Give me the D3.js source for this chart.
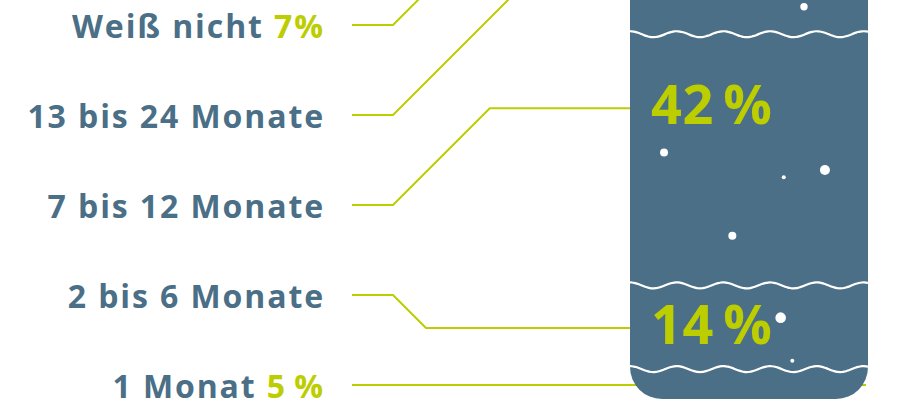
<!DOCTYPE html>
<html>
<head>
<meta charset="utf-8">
<script src="https://cdn.jsdelivr.net/npm/d3@7"></script>
<style>
  html, body { margin: 0; padding: 0; background: #fff; }
  svg { display: block; }
</style>
</head>
<body>
<script>
// Dauer (von unten nach oben gestapelt), Werte in Prozent
const categories = ["1 Monat", "2 bis 6 Monate", "7 bis 12 Monate", "13 bis 24 Monate", "Weiß nicht"];
const values = [5, 14, 42, 32, 7];
const pctLabels = ["5\u2009%", "14\u2009%", "42\u2009%", "32\u2009%", "7%"];
const inJar = [false, true, true, true, false];

// Luftblasen: [x-Anteil der Glasbreite, Höhe in Prozent, Radius]
const bubbles = [
  [0.731, 65.6, 3.7], [0.143, 41.2, 4], [0.819, 38.3, 5], [0.646, 37.1, 2],
  [0.430, 27.3, 4], [0.633, 13.6, 5.3], [0.682, 6.4, 2]
];

const W = 915, H = 413;
const blue = "#4a6f86", lime = "#bccd00";
const font = "'Open Sans', 'Noto Sans', sans-serif";

const svg = d3.select("body").append("svg")
    .attr("width", W)
    .attr("height", H);

// Glas
const jarX0 = 630, jarX1 = 868, jarBottom = 399, corner = 32;
const y = d3.scaleLinear().domain([0, 100]).range([jarBottom, jarBottom - 598]);
const jx = d3.scaleLinear().domain([0, 1]).range([jarX0, jarX1]);

// Stapel
let acc = 0;
const stack = values.map((v, i) => {
  const s = { cat: categories[i], v, i, y0: acc, y1: acc + v };
  acc += v;
  return s;
});

// Beschriftungen links
const row = d3.scalePoint().domain(categories).range([385, 25]);
const textRight = 323, lineX0 = 352, elbowX = 393;

stack.forEach(s => {
  const top = y(s.y1), h = y(s.y0) - y(s.y1);
  s.labelBase = top + Math.min(90, h * 0.7);
  s.target = inJar[s.i] ? s.labelBase - 16 : s.i === 0 ? row(s.cat) : y(s.y1) - 20;
});

const conn = svg.append("g")
    .attr("fill", "none")
    .attr("stroke", lime)
    .attr("stroke-width", 2);

conn.selectAll("path")
  .data(stack)
  .join("path")
    .attr("d", s => {
      const r = row(s.cat);
      const dy = r - s.target;
      const endX = s.i === 0 ? 866 : jarX0;
      if (Math.abs(dy) < 0.5) return d3.line()([[lineX0, r], [endX, r]]);
      return d3.line()([[lineX0, r], [elbowX, r], [elbowX + Math.abs(dy), s.target], [endX, s.target]]);
    });

// Glaskörper mit runden Ecken unten
const jarTop = y(100) - 40;
const jarPath = d3.path();
jarPath.moveTo(jarX0, jarTop);
jarPath.lineTo(jarX0, jarBottom - corner);
jarPath.arcTo(jarX0, jarBottom, jarX0 + corner, jarBottom, corner);
jarPath.lineTo(jarX1 - corner, jarBottom);
jarPath.arcTo(jarX1, jarBottom, jarX1, jarBottom - corner, corner);
jarPath.lineTo(jarX1, jarTop);
jarPath.closePath();

svg.append("path")
    .attr("d", jarPath.toString())
    .attr("fill", blue);

// Wellenlinien an den Segmentgrenzen
const period = 46.7, amp = 3;
const wave = yy => d3.line().curve(d3.curveBasis)(
  d3.range(jarX0, jarX1 + 0.1, 2).map(x => [x, yy - amp * Math.cos((x - jarX0) / period * 2 * Math.PI)])
);

svg.append("g")
    .attr("fill", "none")
    .attr("stroke", "#fff")
    .attr("stroke-width", 2.2)
  .selectAll("path")
  .data(stack.slice(0, -1))
  .join("path")
    .attr("d", s => wave(y(s.y1)));

// Luftblasen
svg.append("g")
    .attr("fill", "#fff")
  .selectAll("circle")
  .data(bubbles)
  .join("circle")
    .attr("cx", d => jx(d[0]))
    .attr("cy", d => y(d[1]))
    .attr("r", d => d[2]);

// Prozentwerte im Glas (nur die sichtbaren)
svg.append("g")
    .attr("fill", lime)
    .attr("font-family", font)
    .attr("font-weight", 700)
    .attr("font-size", 54)
    .attr("letter-spacing", 0.5)
  .selectAll("text")
  .data(stack.filter(s => inJar[s.i] && s.labelBase > 60))
  .join("text")
    .attr("x", 651)
    .attr("y", s => s.labelBase)
    .text(s => pctLabels[s.i]);

// Kategorienamen
const labels = svg.append("g")
    .attr("font-family", font)
    .attr("font-weight", 700)
    .attr("font-size", 32)
    .attr("letter-spacing", 1.9)
    .attr("text-anchor", "end")
  .selectAll("text")
  .data(stack)
  .join("text")
    .attr("x", textRight + 2)
    .attr("y", s => row(s.cat) + 13)
    .attr("fill", blue);

labels.append("tspan").text(s => s.cat);
labels.filter(s => !inJar[s.i]).append("tspan")
    .attr("fill", lime)
    .text(s => " " + pctLabels[s.i]);
</script>
</body>
</html>
